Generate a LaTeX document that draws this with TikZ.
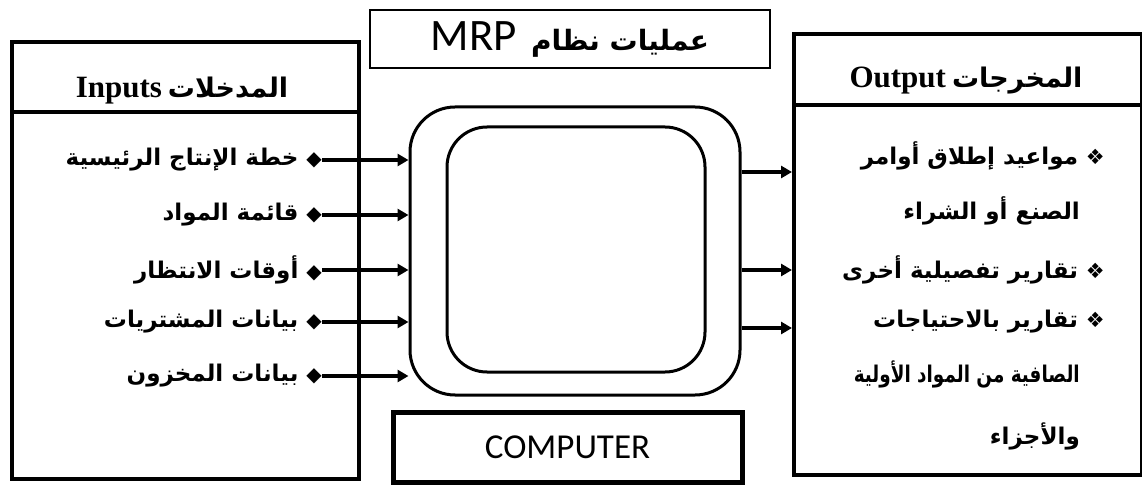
\documentclass[tikz,border=0pt]{standalone}
\usepackage{fontspec}
\usetikzlibrary{arrows.meta}
\TeXXeTstate=1
\newfontfamily\arabicfont[Script=Arabic]{DejaVu Sans}
\newfontfamily\symfont{DejaVu Sans}
\newfontfamily\latinserif{Liberation Serif}
\newfontfamily\latinsans{Carlito}
\tikzset{
  frame/.style={draw, line width=4pt},
  item/.style={font=\arabicfont\bfseries\fontsize{23}{26}\selectfont, inner sep=0pt},
  head/.style={inner sep=0pt},
  arr/.style={line width=3.2pt, -{Triangle[length=11pt,width=12pt]}},
}
\newcommand{\inb}{{\symfont\bfseries\fontsize{20}{20}\selectfont ◆}}
\newcommand{\outb}{{\symfont\bfseries\fontsize{21}{21}\selectfont ❖}}
\newcommand{\hd}[2]{\hbox{{\latinserif\bfseries\fontsize{31}{34}\selectfont #2}\hspace{6pt}{\arabicfont\bfseries\fontsize{27}{30}\selectfont\beginR #1\endR}}}
\begin{document}
\begin{tikzpicture}[x=1pt,y=-1pt]
\useasboundingbox[fill=white] (0,0) rectangle (1142,486);
% left box
\node[frame, minimum width=347pt, minimum height=437pt, anchor=north west, inner sep=0pt] (lbox) at (10,40) {};
\draw[line width=4pt] (lbox.west |- 0,112) -- (lbox.east |- 0,112);
\node[head] (lhead) at (182,91) {\hd{المدخلات}{Inputs}};
% right box
\node[frame, minimum width=348pt, minimum height=441pt, anchor=north west, inner sep=0pt] (rbox) at (792,32) {};
\draw[line width=4pt] (rbox.west |- 0,105) -- (rbox.east |- 0,105);
\node[head] (rhead) at (966,81) {\hd{المخرجات}{Output}};
% title
\node[draw, line width=2.6pt, minimum width=400pt, minimum height=58pt, inner sep=0pt] (title) at (570,39)
  {\hbox{{\latinsans\fontsize{45}{48}\selectfont MRP}\hspace{14pt}{\arabicfont\bfseries\fontsize{28}{30}\selectfont\beginR عمليات نظام\endR}}};
% computer rounded boxes
\node[draw, line width=3pt, rounded corners=45pt, minimum width=330pt, minimum height=288pt] (outer) at (575,251) {};
\node[draw, line width=3pt, rounded corners=40pt, minimum width=258pt, minimum height=245pt] (inner) at (576,249.5) {};
% computer label box
\node[draw, line width=5pt, minimum width=349pt, minimum height=70pt, font=\latinsans\fontsize{35}{38}\selectfont] (comp) at (567.5,447) {COMPUTER};
% inputs
\node[item, anchor=east] (in1) at (322,160) {\beginR\inb\ خطة الإنتاج الرئيسية\endR};
\node[item, anchor=east] (in2) at (322,215) {\beginR\inb\ قائمة المواد\endR};
\node[item, anchor=east] (in3) at (322,270) {\beginR\inb\ أوقات الانتظار\endR};
\node[item, anchor=east] (in4) at (322,322) {\beginR\inb\ بيانات المشتريات\endR};
\node[item, anchor=east] (in5) at (322,376) {\beginR\inb\ بيانات المخزون\endR};
\foreach \i in {1,...,5}{
  \coordinate (t\i) at (outer.west |- in\i.east);
  \draw[arr] (in\i.east) -- (t\i);
}
% outputs
\node[item, anchor=east] (o1) at (1105,156) {\beginR\outb\ مواعيد إطلاق أوامر\endR};
\node[item, anchor=east] (o2) at (1080,211) {\beginR الصنع أو الشراء\endR};
\node[item, anchor=east] (o3) at (1105,270) {\beginR\outb\ تقارير تفصيلية أخرى\endR};
\node[item, anchor=east] (o4) at (1105,322) {\beginR\outb\ تقارير بالاحتياجات\endR};
\node[item, anchor=east] (o5) at (1080,374) {\scalebox{0.8}[1]{\beginR الصافية من المواد الأولية\endR}};
\node[item, anchor=east] (o6) at (1080,436) {\beginR والأجزاء\endR};
\foreach \y [count=\k] in {172,270,328}{
  \coordinate (s\k) at (outer.east |- 0,\y);
  \coordinate (e\k) at (rbox.west |- 0,\y);
  \draw[arr] (s\k) -- (e\k);
}
\end{tikzpicture}
\end{document}
